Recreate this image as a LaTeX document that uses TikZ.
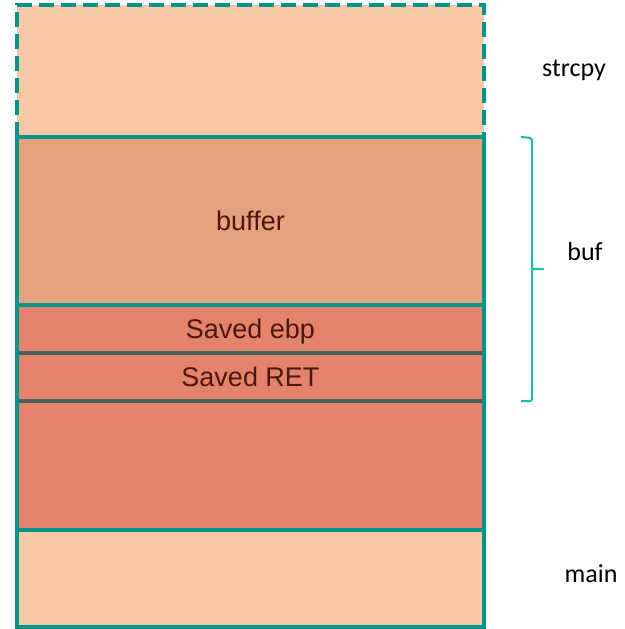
\documentclass[tikz,border=0pt]{standalone}
\usepackage{fontspec}
\setmainfont{Carlito}
\newfontfamily\boxfont{Liberation Sans}
\usetikzlibrary{positioning}
\definecolor{frame}{HTML}{00958A}
\definecolor{peach}{HTML}{F7C9A6}
\definecolor{bufc}{HTML}{E6A17F}
\definecolor{savc}{HTML}{E4836C}
\definecolor{sepc}{HTML}{45625B}
\definecolor{brc}{HTML}{1BBDB1}
\definecolor{slottext}{HTML}{4E1610}
\tikzset{slot/.style={rectangle,minimum width=467pt,inner sep=0pt,outer sep=0pt,text depth=0pt,
    font=\boxfont\fontsize{27}{31}\selectfont,text=slottext},
  edge/.style={draw=frame,line width=4pt},
  sepline/.style={draw=sepc,line width=4pt},
  lbl/.style={font=\fontsize{26}{30}\selectfont,text=black},
  brk/.style={draw=brc,line width=2pt}}

\begin{document}
\begin{tikzpicture}[x=1pt,y=-1pt]
\useasboundingbox (0,0) rectangle (624,629);
% stack frames, top to bottom
\node[slot,fill=peach,minimum height=132pt] (stk) at (250.5,71) {};
\node[slot,fill=bufc,minimum height=168pt,below=0pt of stk] (bufr) {buffer};
\node[slot,fill=savc,minimum height=48pt,below=0pt of bufr] (ebp) {Saved ebp};
\node[slot,fill=savc,minimum height=48pt,below=0pt of ebp] (ret) {Saved RET};
\node[slot,fill=savc,minimum height=129pt,below=0pt of ret] (rest) {};
\node[slot,fill=peach,minimum height=97pt,below=0pt of rest] (mainb) {};
% borders
\draw[edge,dash pattern=on 15pt off 7pt] (stk.south west) |- (stk.north east) -- (stk.south east);
\draw[sepline] (ebp.south west) -- (ebp.south east);
\draw[sepline] (ret.south west) -- (ret.south east);
\draw[edge] (bufr.south west) -- (bufr.south east);
\draw[edge] (mainb.north west) -- (mainb.north east);
\draw[edge] (bufr.north west) rectangle (mainb.south east);
% brace over buf
\coordinate (btop) at ([xshift=37pt]bufr.north east);
\coordinate (bbot) at ([xshift=37pt]ret.south east);
\coordinate (btip) at (545,269);
\draw[brk,rounded corners=2pt] (btop) -- (532,138) -- (532,266)
  .. controls (532,269) .. (btip) .. controls (532,269) .. (532,272) -- (532,401) -- (bbot);
% labels
\node[lbl] (lstr) at (574,70) {strcpy};
\node[lbl] (lbuf) at (585,252) {buf};
\node[lbl] (lmain) at (591,574) {main};
\end{tikzpicture}
\end{document}
